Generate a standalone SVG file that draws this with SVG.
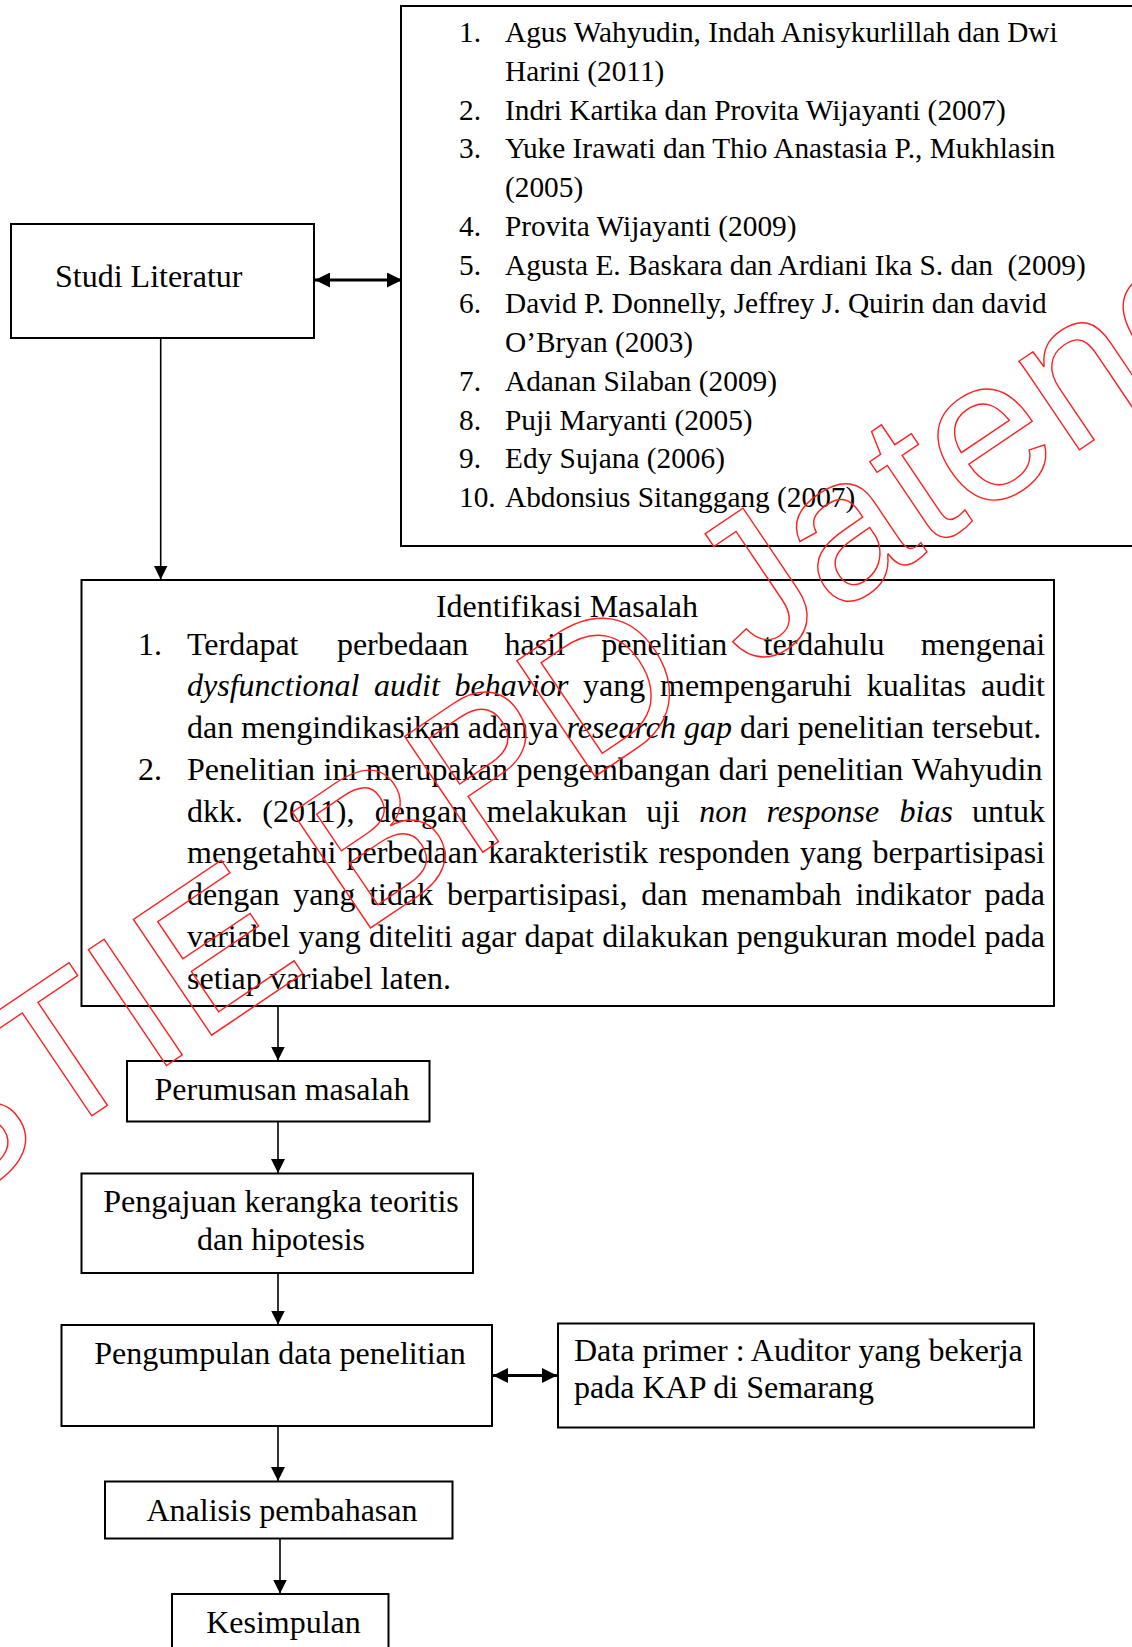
<svg xmlns="http://www.w3.org/2000/svg" width="1132" height="1647" viewBox="0 0 1132 1647">
  <style>
    .box { fill: #fff; stroke: #000; stroke-width: 2; }
    .t { font-family: "Liberation Serif", "Times New Roman", serif; font-size: 32px; fill: #000; }
    .s { font-size: 29.33px; }
    .i { font-style: italic; }
    .c { text-anchor: middle; }
    .ln { stroke: #000; stroke-width: 1.6; fill: none; }
    .dbl { stroke: #000; stroke-width: 3; fill: none; }
    .wm { font-family: "Liberation Sans", Arial, sans-serif; font-size: 203px; fill: none; stroke: #ff2020; stroke-width: 1.4; }
  </style>
  <defs>
    <marker id="ah" viewBox="0 0 14 14" refX="14" refY="7" markerWidth="14" markerHeight="14" markerUnits="userSpaceOnUse" orient="auto-start-reverse">
      <path d="M0,0 L14,7 L0,14 z" fill="#000"/>
    </marker>
    <marker id="ah2" viewBox="0 0 15 15" refX="15" refY="7.5" markerWidth="15" markerHeight="15" markerUnits="userSpaceOnUse" orient="auto-start-reverse">
      <path d="M0,0 L15,7.5 L0,15 z" fill="#000"/>
    </marker>
  </defs>
  <rect width="1132" height="1647" fill="#fff"/>

  <!-- connectors -->
  <g id="connectors">
    <line class="ln" x1="160.7" y1="338" x2="160.7" y2="579.5" marker-end="url(#ah)"/>
    <line class="ln" x1="278" y1="1006" x2="278" y2="1060.5" marker-end="url(#ah)"/>
    <line class="ln" x1="278" y1="1121.5" x2="278" y2="1173" marker-end="url(#ah)"/>
    <line class="ln" x1="278" y1="1273" x2="278" y2="1324.5" marker-end="url(#ah)"/>
    <line class="ln" x1="278" y1="1426" x2="278" y2="1481" marker-end="url(#ah)"/>
    <line class="ln" x1="280" y1="1538.5" x2="280" y2="1593.5" marker-end="url(#ah)"/>
    <line class="dbl" x1="315" y1="280" x2="402" y2="280" marker-start="url(#ah2)" marker-end="url(#ah2)"/>
    <line class="dbl" x1="493" y1="1375.5" x2="557" y2="1375.5" marker-start="url(#ah2)" marker-end="url(#ah2)"/>
  </g>

  <!-- Studi Literatur -->
  <g id="studi-literatur">
    <rect class="box" x="11" y="224" width="303" height="114"/>
    <text class="t" x="55" y="287">Studi Literatur</text>
  </g>

  <!-- reference list -->
  <g id="daftar-referensi">
    <rect class="box" x="401" y="6" width="760" height="540"/>
    <g class="t s">
      <text x="459" y="42">1.</text>
      <text x="505" y="42">Agus Wahyudin, Indah Anisykurlillah dan Dwi</text>
      <text x="505" y="80.75">Harini (2011)</text>
      <text x="459" y="119.5">2.</text>
      <text x="505" y="119.5">Indri Kartika dan Provita Wijayanti (2007)</text>
      <text x="459" y="158.25">3.</text>
      <text x="505" y="158.25">Yuke Irawati dan Thio Anastasia P., Mukhlasin</text>
      <text x="505" y="197">(2005)</text>
      <text x="459" y="235.75">4.</text>
      <text x="505" y="235.75">Provita Wijayanti (2009)</text>
      <text x="459" y="274.5">5.</text>
      <text x="505" y="274.5" xml:space="preserve">Agusta E. Baskara dan Ardiani Ika S. dan  (2009)</text>
      <text x="459" y="313.25">6.</text>
      <text x="505" y="313.25">David P. Donnelly, Jeffrey J. Quirin dan david</text>
      <text x="505" y="352">O’Bryan (2003)</text>
      <text x="459" y="390.75">7.</text>
      <text x="505" y="390.75">Adanan Silaban (2009)</text>
      <text x="459" y="429.5">8.</text>
      <text x="505" y="429.5">Puji Maryanti (2005)</text>
      <text x="459" y="468.25">9.</text>
      <text x="505" y="468.25">Edy Sujana (2006)</text>
      <text x="459" y="507">10.</text>
      <text x="505" y="507">Abdonsius Sitanggang (2007)</text>
    </g>
  </g>

  <!-- Identifikasi Masalah -->
  <g id="identifikasi-masalah">
    <rect class="box" x="81.5" y="580" width="972.5" height="426"/>
    <g class="t">
      <text class="c" x="567" y="617">Identifikasi Masalah</text>
      <text x="138" y="654.5">1.</text>
      <text y="654.5"><tspan x="187">Terdapat</tspan><tspan x="336.9">perbedaan</tspan><tspan x="504.6">hasil</tspan><tspan x="601.2">penelitian</tspan><tspan x="763.6">terdahulu</tspan><tspan x="920.7">mengenai</tspan></text>
      <text y="696.25"><tspan class="i" x="187">dysfunctional</tspan><tspan class="i" x="374.1">audit</tspan><tspan class="i" x="454.6">behavior</tspan><tspan x="583.1">yang</tspan><tspan x="660">mempengaruhi</tspan><tspan x="866.7">kualitas</tspan><tspan x="981">audit</tspan></text>
      <text x="187" y="738">dan mengindikasikan adanya <tspan class="i">research gap</tspan> dari penelitian tersebut.</text>
      <text x="138" y="779.75">2.</text>
      <text y="779.75"><tspan x="187">Penelitian</tspan><tspan x="323.5">ini</tspan><tspan x="365.8">merupakan</tspan><tspan x="516.5">pengembangan</tspan><tspan x="718.7">dari</tspan><tspan x="777">penelitian</tspan><tspan x="911.7">Wahyudin</tspan></text>
      <text y="821.5"><tspan x="187">dkk.</tspan><tspan x="262.3">(2011),</tspan><tspan x="374.8">dengan</tspan><tspan x="486.5">melakukan</tspan><tspan x="646.2">uji</tspan><tspan class="i" x="699.2">non</tspan><tspan class="i" x="766.5">response</tspan><tspan class="i" x="899.5">bias</tspan><tspan x="972.1">untuk</tspan></text>
      <text y="863.25"><tspan x="187">mengetahui</tspan><tspan x="346.5">perbedaan</tspan><tspan x="488.2">karakteristik</tspan><tspan x="658.4">responden</tspan><tspan x="800.1">yang</tspan><tspan x="872.6">berpartisipasi</tspan></text>
      <text y="905"><tspan x="187">dengan</tspan><tspan x="293.2">yang</tspan><tspan x="369.2">tidak</tspan><tspan x="447">berpartisipasi,</tspan><tspan x="641.2">dan</tspan><tspan x="701.2">menambah</tspan><tspan x="855.4">indikator</tspan><tspan x="984.6">pada</tspan></text>
      <text y="946.75"><tspan x="187">variabel</tspan><tspan x="298.5">yang</tspan><tspan x="369.1">diteliti</tspan><tspan x="461.1">agar</tspan><tspan x="524.5">dapat</tspan><tspan x="602.2">dilakukan</tspan><tspan x="736.8">pengukuran</tspan><tspan x="896.3">model</tspan><tspan x="984.6">pada</tspan></text>
      <text x="187" y="988.5">setiap variabel laten.</text>
    </g>
  </g>

  <g id="perumusan-masalah">
    <rect class="box" x="127" y="1061" width="302.5" height="60.5"/>
    <text class="t c" x="282" y="1100">Perumusan masalah</text>
  </g>

  <g id="pengajuan-kerangka">
    <rect class="box" x="81.5" y="1173.5" width="391.5" height="99.5"/>
    <text class="t c" x="281" y="1211.5">Pengajuan kerangka teoritis</text>
    <text class="t c" x="281" y="1250">dan hipotesis</text>
  </g>

  <g id="pengumpulan-data">
    <rect class="box" x="61.5" y="1325" width="430.5" height="101"/>
    <text class="t c" x="280" y="1364">Pengumpulan data penelitian</text>
  </g>

  <g id="data-primer">
    <rect class="box" x="558" y="1323.5" width="476" height="104"/>
    <text class="t" x="574" y="1361">Data primer : Auditor yang bekerja</text>
    <text class="t" x="574" y="1398">pada KAP di Semarang</text>
  </g>

  <g id="analisis-pembahasan">
    <rect class="box" x="105" y="1481.5" width="347.5" height="57"/>
    <text class="t c" x="282" y="1520.5">Analisis pembahasan</text>
  </g>

  <g id="kesimpulan">
    <rect class="box" x="172" y="1594" width="216.5" height="80"/>
    <text class="t c" x="283.5" y="1633">Kesimpulan</text>
  </g>

  <!-- outlined watermark over the page -->
  <text class="wm" transform="translate(-64,1221) rotate(-34)">STIE BPD Jateng</text>
</svg>
